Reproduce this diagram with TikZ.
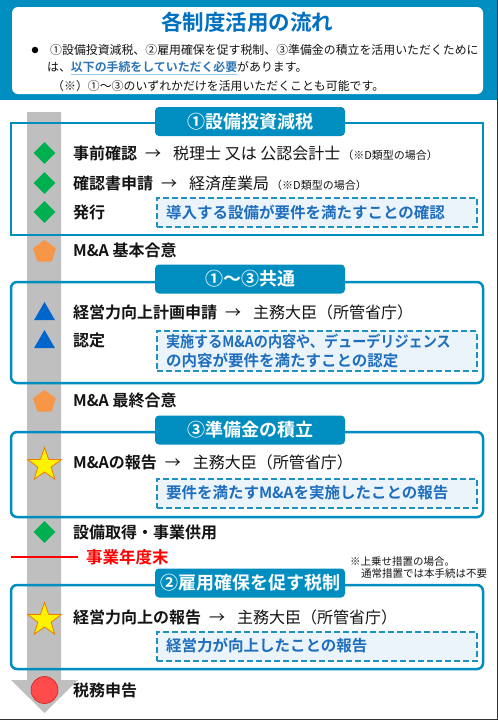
\documentclass[tikz,border=0pt]{standalone}
\usepackage{fontspec}
\usepackage{graphicx}
\setmainfont{Noto Sans CJK JP}[BoldFont={Noto Sans CJK JP Bold}]
\usetikzlibrary{shapes.geometric}
\definecolor{hdr}{RGB}{0,142,192}
\definecolor{ttl}{RGB}{0,112,192}
\definecolor{emph}{RGB}{46,117,182}
\definecolor{secb}{RGB}{0,142,192}
\definecolor{dbord}{RGB}{30,144,194}
\definecolor{dfill}{RGB}{234,244,250}
\definecolor{dtext}{RGB}{31,110,190}
\definecolor{agray}{RGB}{191,191,191}
\definecolor{dgreen}{RGB}{0,176,80}
\definecolor{pent}{RGB}{247,150,70}
\definecolor{tri}{RGB}{0,102,204}
\definecolor{staro}{RGB}{235,125,0}
\definecolor{circf}{RGB}{255,75,75}
\definecolor{circd}{RGB}{215,30,30}
\definecolor{ulc}{RGB}{150,200,235}
\definecolor{txt}{RGB}{20,20,20}
\definecolor{frm}{RGB}{50,50,50}
\newcommand\fsz[1]{\fontsize{#1}{#1}\selectfont}
\tikzset{
  rowtext/.style={anchor=west, inner sep=0pt, text=txt, font=\fsz{16}},
  hdrtext/.style={anchor=west, inner sep=0pt, text=txt, font=\fsz{11.9}},
  tabbox/.style={fill=hdr, text=white, rounded corners=4pt, minimum width=190pt, minimum height=29pt, inner sep=0pt, font=\bfseries\fsz{18}},
  secbox/.style={draw=secb, line width=2.5pt, rounded corners=6pt},
  dbox/.style={draw=dbord, fill=dfill, dash pattern=on 6pt off 3pt, line width=2pt, text=dtext, font=\bfseries\fontsize{15.5}{18.5}\selectfont, text width=302pt, inner xsep=9pt, inner ysep=3pt, align=left, minimum height=29pt},
  gmark/.style={diamond, fill=dgreen, minimum width=22pt, minimum height=22pt, inner sep=0pt},
  pmark/.style={regular polygon, regular polygon sides=5, fill=pent, minimum size=24pt, inner sep=0pt},
  tmark/.style={regular polygon, regular polygon sides=3, fill=tri, minimum size=24pt, inner sep=0pt},
  smark/.style={star, star points=5, star point ratio=2.5, fill=yellow, draw=staro, line width=0.8pt, minimum size=35pt, inner sep=0pt},
  cmark/.style={circle, fill=circf, draw=circd, line width=0.6pt, minimum size=27pt, inner sep=0pt}
}
\begin{document}
\begin{tikzpicture}[x=1pt,y=-1pt]
\useasboundingbox (0,0) rectangle (498,721);
\fill[white] (0,0) rectangle (498,721);
% header
\fill[hdr] (0,0) rectangle (498,100);
\fill[white, rounded corners=6pt] (12,7) rectangle (483,94);
\node[text=ttl, font=\bfseries\fsz{21.5}, inner sep=0pt] (title) at (247,22) {各制度活用の流れ};
\node[circle, fill=black, minimum size=6.5pt, inner sep=0pt] (bul) at (35,50) {};
\node[hdrtext] (h1) at (50,50) {①設備投資減税、②雇用確保を促す税制、③準備金の積立を活用いただくために};
\node[hdrtext] (h2) at (47,68) {は、\textcolor{ulc}{\underline{\textcolor{emph}{\textbf{以下の手続をしていただく必要}}}}があります。};
\node[hdrtext] (h3) at (52,86) {（※）①～③のいずれかだけを活用いただくことも可能です。};
% frame
\draw[frm, line width=1.5pt] (497.3,0) -- (497.3,719.5) -- (0,719.5);
% gray arrow
\fill[agray] (27,112) -- (61,112) -- (61,680) -- (78,680) -- (44.5,713) -- (11,680) -- (27,680) -- cycle;
% section 1
\draw[draw=secb, line width=2.5pt] (11,123) rectangle (483,235);
\node[tabbox] (t1) at (250,121.5) {①設備投資減税};
\node[gmark] (m1) at (44.5,153) {};
\node[rowtext] (r1) at (73,153) {\textbf{事前確認}\hspace{8pt}→\hspace{12pt}税理士 又は 公認会計士\hspace{2pt}{\fsz{11}（※D類型の場合）}};
\node[gmark] (m2) at (44.5,183) {};
\node[rowtext] (r2) at (73,183) {\textbf{確認書申請}\hspace{8pt}→\hspace{12pt}経済産業局\hspace{2pt}{\fsz{11}（※D類型の場合）}};
\node[gmark] (m3) at (44.5,212) {};
\node[rowtext] (r3) at (73,212) {\textbf{発行}};
\node[dbox] (d1) at (317,212.5) {導入する設備が要件を満たすことの確認};
% M&A basic
\node[pmark] (p1) at (44.5,252) {};
\node[rowtext] (pa) at (73,250) {\textbf{M\&A 基本合意}};
% section 2
\draw[secbox] (11,282) rectangle (483,383);
\node[tabbox] (t2) at (250,279) {①～③共通};
\node[tmark] (m4) at (44.5,314) {};
\node[rowtext] (r4) at (73,312) {\textbf{経営力向上計画申請}\hspace{8pt}→\hspace{12pt}主務大臣（所管省庁）};
\node[tmark] (m5) at (44.5,342) {};
\node[rowtext] (r5) at (73,340) {\textbf{認定}};
\node[dbox] (d2) at (317,351) {\scalebox{0.91}[1]{実施するM\&Aの内容や、デューデリジェンス}\\の内容が要件を満たすことの認定};
% M&A final
\node[pmark] (p2) at (44.5,402) {};
\node[rowtext] (pb) at (73,400) {\textbf{M\&A 最終合意}};
% section 3
\draw[secbox] (11,432) rectangle (483,517);
\node[tabbox] (t3) at (250,430) {③準備金の積立};
\node[smark] (s1) at (44.5,465) {};
\node[rowtext] (r6) at (73,462) {\textbf{M\&Aの報告}\hspace{8pt}→\hspace{12pt}主務大臣（所管省庁）};
\node[dbox] (d3) at (317,493) {要件を満たすM\&Aを実施したことの報告};
% equipment
\node[gmark] (m6) at (44.5,532) {};
\node[rowtext] (r7) at (73,532) {\textbf{設備取得・事業供用}};
% fiscal year end
\coordinate (fl) at (11,557);
\coordinate (fr) at (78,557);
\draw[red, line width=2pt] (fl) -- (fr);
\node[rowtext, text=red, font=\bfseries\fsz{16.5}] (fy) at (86,557) {事業年度末};
\node[hdrtext, font=\fsz{10.5}] (n1) at (350,562) {※上乗せ措置の場合。};
\node[hdrtext, font=\fsz{10.5}] (n2) at (361,574) {通常措置では本手続は不要};
% section 4
\draw[secbox] (11,585) rectangle (483,669);
\node[tabbox] (t4) at (250,583) {②雇用確保を促す税制};
\node[smark] (s2) at (44.5,620) {};
\node[rowtext] (r8) at (73,617) {\textbf{経営力向上の報告}\hspace{8pt}→\hspace{12pt}主務大臣（所管省庁）};
\node[dbox] (d4) at (317,646) {経営力が向上したことの報告};
% tax return
\node[cmark] (c1) at (44.5,690) {};
\node[rowtext] (r9) at (73,690) {\textbf{税務申告}};
\end{tikzpicture}
\end{document}
